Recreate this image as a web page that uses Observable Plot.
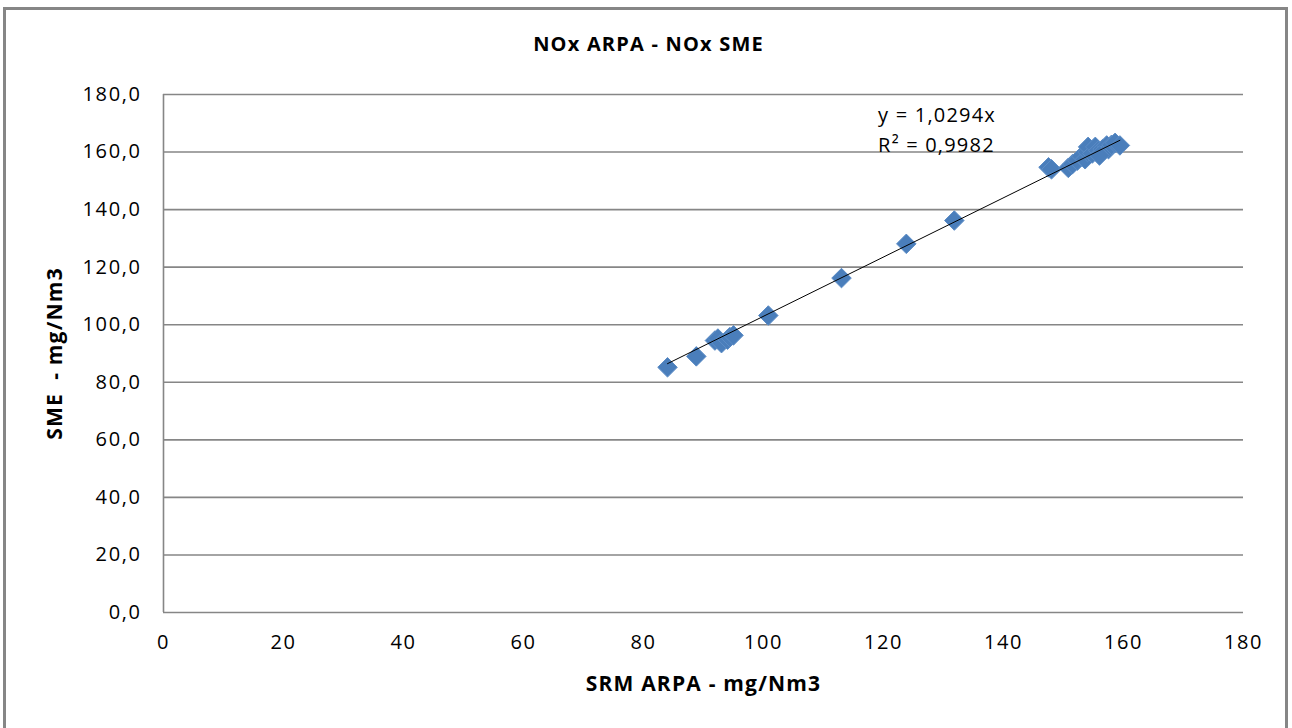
<!DOCTYPE html>
<html>
<head>
<meta charset="utf-8">
<script src="https://cdn.jsdelivr.net/npm/d3@7"></script>
<script src="https://cdn.jsdelivr.net/npm/@observablehq/plot@0.6"></script>
<style>
  html, body { margin: 0; padding: 0; background: #fff; }
  #wrap { position: relative; width: 1292px; height: 728px; overflow: hidden; }
  #frame { position: absolute; left: 3px; top: 7px; width: 1279px; height: 730px;
           border-left: 3px solid #868686; border-top: 3px solid #868686; border-right: 3px solid #868686; }
  #chart { position: absolute; left: 0; top: 0; }
  svg text { font-family: "Open Sans", sans-serif; }
  g[aria-label="x-axis tick label"] text, g[aria-label="y-axis tick label"] text { letter-spacing: 1.6px; }
  .wide text { letter-spacing: 1.2px; }
</style>
</head>
<body>
<div id="wrap"><div id="frame"></div><div id="chart"></div></div>
<script>
const title = "NOx ARPA - NOx SME";
const xLabel = "SRM ARPA - mg/Nm3";
const yLabel = "SME  - mg/Nm3";
const eqLines = ["y = 1,0294x", "R² = 0,9982"];
const slope = 1.0294;

const srmArpa = [84.0, 88.8, 91.9, 92.4, 93.0, 94.0, 94.4, 95.0, 100.8, 113.0, 123.8, 131.8,
  147.5, 148.0, 150.8, 151.5, 152.3, 153.0, 153.6, 154.0, 154.1, 154.8, 155.3, 155.8, 156.1,
  156.5, 157.2, 157.5, 158.0, 158.6, 159.4, 156.0];
const smeVals = [85.2, 89.0, 94.5, 95.2, 93.6, 94.8, 95.7, 96.3, 103.2, 116.2, 128.1, 136.2,
  154.7, 154.0, 154.5, 155.8, 157.0, 158.5, 157.5, 160.0, 161.8, 159.5, 161.8, 160.5, 159.3,
  161.0, 162.3, 161.0, 162.5, 163.2, 162.3, 158.8];
const xTicks = [0, 20, 40, 60, 80, 100, 120, 140, 160, 180];
const yTicks = [0, 20, 40, 60, 80, 100, 120, 140, 160, 180];

const points = srmArpa.map((x, i) => ({x, y: smeVals[i]}));
const xmin = d3.min(srmArpa), xmax = d3.max(srmArpa);
const trend = [xmin, xmax].map(x => ({x, y: slope * x}));
const eqPos = [{x: 119.1, y: 170.3, t: eqLines[0]}, {x: 119.1, y: 159.9, t: eqLines[1]}];

const plot = Plot.plot({
  width: 1292,
  height: 728,
  marginLeft: 163,
  marginRight: 49,
  marginTop: 94,
  marginBottom: 116,
  style: {background: "transparent", fontSize: "20px", color: "#000"},
  x: {domain: [0, 180], label: null},
  y: {domain: [0, 180], label: null},
  marks: [
    Plot.ruleY(yTicks, {stroke: "#868686", strokeWidth: 1.6, strokeOpacity: 1}),
    Plot.ruleX([0], {stroke: "#868686", strokeWidth: 1.6}),
    Plot.axisX({ticks: xTicks, tickSize: 0, tickPadding: 22, fontSize: 20, label: null}),
    Plot.axisY({ticks: yTicks, tickSize: 0, tickPadding: 22, fontSize: 20, label: null,
      tickFormat: d => d.toFixed(1).replace(".", ",")}),
    Plot.dot(points, {x: "x", y: "y", symbol: "diamond2", r: 8.8, fill: "#4A7EBB", stroke: "#5B8CC6", strokeWidth: 1}),
    Plot.line(trend, {x: "x", y: "y", stroke: "#000", strokeWidth: 1}),
    Plot.text(eqPos, {x: "x", y: "y", text: "t", textAnchor: "start", lineAnchor: "bottom", fontSize: 20, fill: "#000", className: "wide"}),
    Plot.text([title], {frameAnchor: "top", dx: -55, dy: -58, fontSize: 20, fontWeight: "bold", fill: "#000", className: "wide"}),
    Plot.text([xLabel], {frameAnchor: "bottom", dy: 78, fontSize: 21, fontWeight: "bold", fill: "#000", className: "wide"}),
    Plot.text([yLabel], {frameAnchor: "left", textAnchor: "middle", dx: -108, rotate: -90, fontSize: 21, fontWeight: "bold", fill: "#000", className: "wide"})
  ]
});
document.getElementById("chart").appendChild(plot);
</script>
</body>
</html>
